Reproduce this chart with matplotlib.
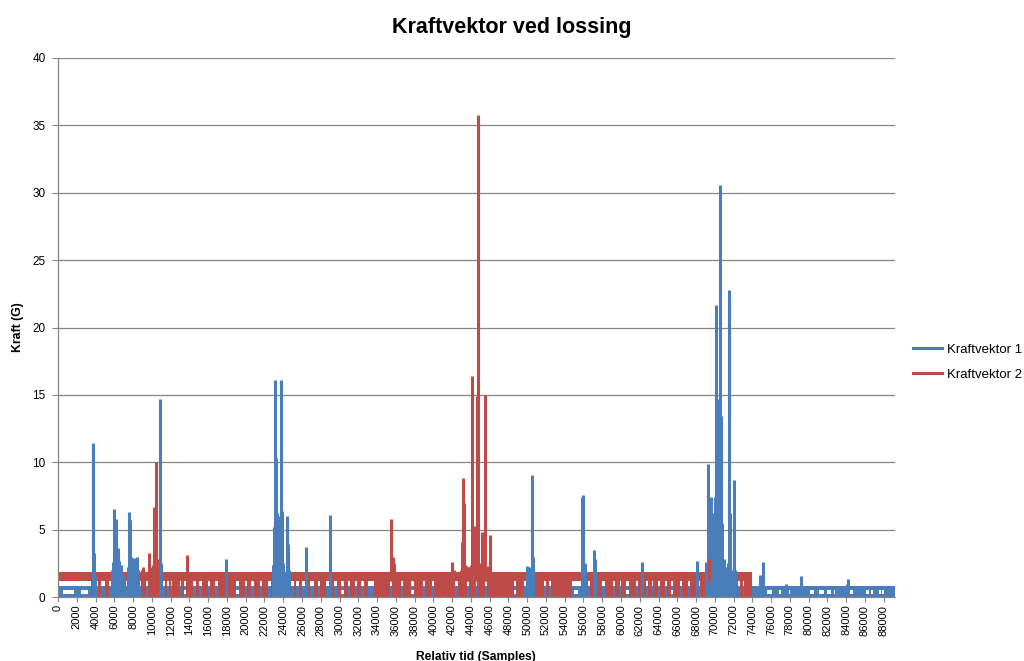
import matplotlib
matplotlib.use("Agg")
import matplotlib.pyplot as plt
from matplotlib.lines import Line2D

plt.rcParams['font.family'] = ['Liberation Sans', 'DejaVu Sans']

title = "Kraftvektor ved lossing"
series_names = ["Kraftvektor 1", "Kraftvektor 2"]
colors = ["#4a7ebb", "#be4b48"]

# sample ranges of the two logs
kv1_range = (0, 89200)
kv2_range = (0, 74000)

# resting band of each vector (G): kv1 has a lower strip, a middle part and an upper strip
kv1_levels = [0.0, 0.22, 0.52, 0.82]
kv2_levels = [1.22, 1.86]

# stretches where kv1 stays in its upper strip (middle part empty)
kv1_gaps = [(500, 1700), (2450, 3150), (13450, 13650), (19000, 19300),
            (30200, 30450), (37650, 37900), (48550, 48800), (55000, 55400),
            (60550, 60800), (65350, 65550),
            (75580, 76110), (76810, 77000), (77880, 77990), (80190, 80620),
            (81080, 81610), (81970, 82400), (82680, 82790), (84270, 84740),
            (86120, 86400), (86660, 86870), (87470, 87690), (87830, 88070)]

# stretches where kv2 never drops towards zero
kv2_gaps = [(0, 3550), (3850, 4250), (4550, 5000), (5450, 5700), (6550, 6750),
            (7250, 7450), (8550, 8800), (9400, 9550), (11150, 11350),
            (11650, 11850), (12000, 12200), (12950, 13150), (13450, 13650),
            (14400, 14700), (15050, 15300), (15950, 16250), (16700, 17000),
            (17750, 18050), (19000, 19300), (19900, 20150), (20600, 20850),
            (21500, 21750), (22400, 22650), (23800, 24050), (24850, 25100),
            (25400, 25650), (26050, 26300), (26850, 27250), (27700, 27950),
            (28600, 28850), (29450, 29700), (30200, 30450), (30900, 31150),
            (31600, 31850), (32300, 32600), (33000, 33700), (35350, 35550),
            (36600, 36800), (37650, 37900), (38850, 39100), (39900, 40100),
            (42350, 42600), (43600, 43800), (44500, 44700), (45550, 45750),
            (48550, 48800), (49650, 49850), (50500, 50750), (51750, 52000),
            (52300, 52500), (54800, 55700), (56450, 56700), (58000, 58250),
            (59150, 59350), (59850, 60050), (60550, 60800), (61600, 61850),
            (62700, 62900), (63250, 63400), (63950, 64150), (64650, 64850),
            (65350, 65550), (66250, 66450), (67150, 67350), (68200, 68400),
            (69250, 69450), (71050, 71250), (72450, 72650), (72950, 73150)]

# peaks above the resting band
kv1_peak_x = [3700, 3760, 3850, 3950, 5800, 5900, 5960, 6070, 6150, 6250,
              6350, 6450, 6550, 6700, 7000, 7450, 7560, 7680, 7800, 8050,
              8150, 8450, 8550, 10830, 10950, 17930,
              22900, 23000, 23080, 23150, 23250, 23350, 23450, 23550, 23650,
              23750, 23850, 23950, 24100, 24390, 24500, 24650, 26480, 29040,
              49950, 50150, 50510, 50620, 55850, 56000, 56150, 57120, 57250,
              62270, 68050,
              69050, 69260, 69380, 69500, 69610, 69720, 69850, 69950, 70050,
              70150, 70260, 70360, 70470, 70570, 70680, 70800, 70950, 71100,
              71380, 71490, 71590, 71700, 71990, 72100,
              74850, 75110, 77600, 79230, 84100, 84200]
kv1_peak_y = [2.0, 11.4, 3.3, 1.5, 2.0, 2.6, 6.5, 5.0, 5.8, 2.8,
              3.6, 2.7, 2.7, 2.4, 1.6, 2.2, 6.3, 5.7, 3.0, 2.9,
              2.4, 3.0, 2.0, 14.7, 2.5, 2.8,
              2.4, 5.2, 5.4, 16.1, 10.3, 6.2, 5.6, 6.0, 4.8,
              16.1, 6.4, 2.5, 1.8, 6.0, 3.9, 2.0, 3.7, 6.1,
              2.3, 2.2, 9.05, 3.0, 7.4, 7.6, 2.5, 3.5, 2.8,
              2.6, 2.7,
              2.6, 9.9, 4.0, 6.5, 7.4, 6.2, 3.2, 4.5, 7.4,
              21.7, 7.4, 14.7, 9.0, 30.6, 13.4, 5.5, 2.8, 2.2,
              2.5, 22.8, 6.2, 2.0, 8.7, 2.0,
              1.6, 2.6, 0.95, 1.58, 1.0, 1.3]

kv2_peak_x = [8900, 9090, 9690, 9800, 10100, 10250, 10400, 10480, 10550,
              13740, 13800, 35450, 35540, 35650, 35750, 35850, 42030, 42200,
              42900, 43050, 43150, 43250, 43400, 43500, 43650, 43800, 44000,
              44160, 44330, 44500, 44620, 44760, 44900, 45150, 45300, 45400,
              45510, 45700, 45850, 46010, 69400]
kv2_peak_y = [2.0, 2.2, 3.3, 2.2, 2.4, 6.7, 10.0, 6.6, 2.8,
              3.1, 2.3, 2.6, 5.8, 3.0, 2.7, 2.5, 2.6, 2.0,
              2.0, 4.1, 8.8, 7.0, 2.4, 2.3, 2.2, 2.2, 2.4,
              16.4, 5.3, 2.2, 14.9, 35.8, 2.5, 4.8, 3.0, 2.5,
              15.0, 2.3, 2.2, 4.6, 2.8]

y_ticks = list(range(0, 41, 5))
x_ticks = list(range(0, 88001, 2000))


def spans_outside(start, end, gaps):
    # (start, width) pieces of [start, end] not covered by gaps
    spans, pos = [], start
    for a, b in gaps:
        if a > pos:
            spans.append((pos, a - pos))
        pos = max(pos, b)
    if pos < end:
        spans.append((pos, end - pos))
    return spans


fig = plt.figure(figsize=(10.24, 6.61), dpi=100)
ax = fig.add_axes([58 / 1024, 64 / 661, 837 / 1024, 539 / 661])

c1, c2 = colors
lw = 2.2

# Kraftvektor 1
x0, x1 = kv1_range
lo, mid_lo, mid_hi, hi = kv1_levels
ax.broken_barh([(x0, x1 - x0)], (lo, mid_lo - lo), facecolor=c1, linewidth=0)
ax.broken_barh([(x0, x1 - x0)], (mid_hi, hi - mid_hi), facecolor=c1, linewidth=0)
ax.broken_barh(spans_outside(x0, x1, kv1_gaps), (mid_lo, mid_hi - mid_lo),
               facecolor=c1, linewidth=0)
ax.vlines(kv1_peak_x, lo, kv1_peak_y, color=c1, lw=lw)

# Kraftvektor 2
x0, x1 = kv2_range
b_lo, b_hi = kv2_levels
ax.broken_barh([(x0, x1 - x0)], (b_lo, b_hi - b_lo), facecolor=c2, linewidth=0)
ax.broken_barh(spans_outside(x0, x1, kv2_gaps), (0, b_lo), facecolor=c2, linewidth=0)
ax.vlines(kv2_peak_x, b_lo, kv2_peak_y, color=c2, lw=lw)

grid_c = "#868686"
ax.set_xlim(0, 89200)
ax.set_ylim(0, 40)
ax.set_yticks(y_ticks)
ax.set_xticks(x_ticks)
ax.set_xticklabels([str(v) for v in x_ticks], rotation=90, fontsize=8)
ax.tick_params(axis='y', labelsize=8.5, length=4, width=0.8, color=grid_c, pad=5)
ax.tick_params(axis='x', length=3.5, width=0.8, color=grid_c, pad=2)
ax.yaxis.grid(True, color=grid_c, linewidth=0.9)
ax.set_axisbelow(True)
for side in ['top', 'right']:
    ax.spines[side].set_visible(False)
for side in ['left', 'bottom']:
    ax.spines[side].set_color(grid_c)
    ax.spines[side].set_linewidth(0.9)

fig.text(512 / 1024, 1 - 27 / 661, title, ha='center', va='center',
         fontsize=15.5, fontweight='bold')
fig.text(18 / 1024, 1 - 327 / 661, "Kraft (G)", rotation=90, ha='center',
         va='center', fontsize=8.8, fontweight='bold')
fig.text(476 / 1024, 1 - 657 / 661, "Relativ tid (Samples)", ha='center',
         va='center', fontsize=8.7, fontweight='bold')

handles = [Line2D([], [], color=c, lw=lw) for c in colors]
fig.legend(handles, series_names, loc='center left',
           bbox_to_anchor=(913 / 1024, 1 - 362 / 661), frameon=False,
           fontsize=9.5, handlelength=2.2, handletextpad=0.35,
           labelspacing=0.95, borderpad=0, borderaxespad=0)

fig.savefig("out.png", dpi=100)
